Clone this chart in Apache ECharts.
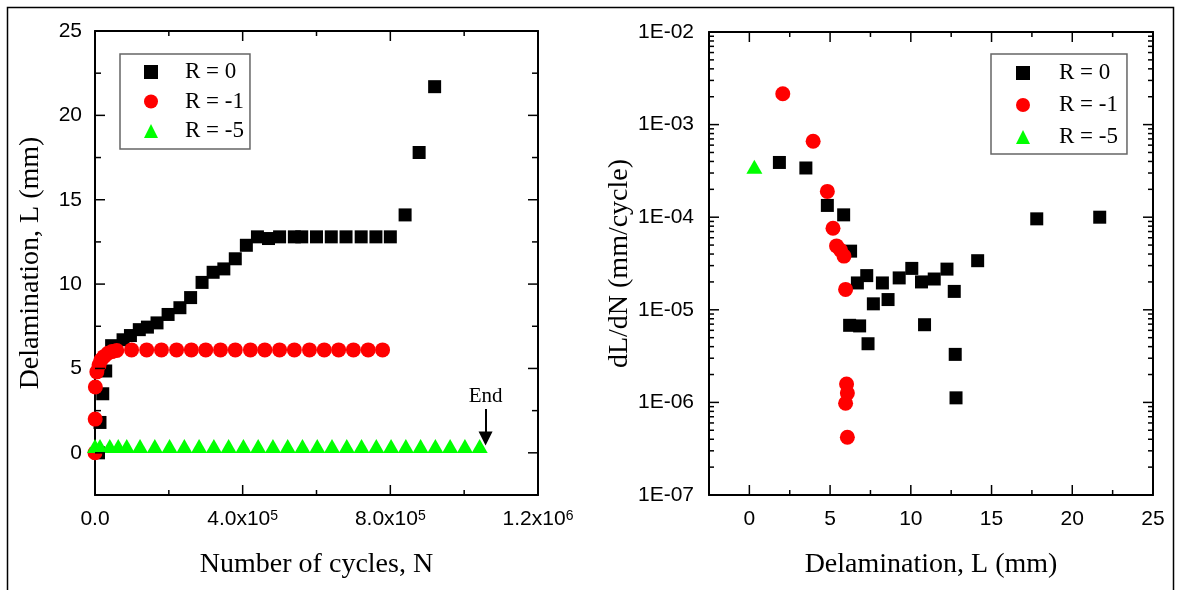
<!DOCTYPE html>
<html><head><meta charset="utf-8">
<script src="https://cdn.jsdelivr.net/npm/echarts@6/dist/echarts.min.js"></script>
<style>html,body{margin:0;padding:0;background:#fff}#c{width:1177px;height:590px}</style>
</head><body><div id="c"></div><script>
// ---------- data ----------
const seriesNames = ['R = 0', 'R = -1', 'R = -5'];
const seriesColors = ['#000000', '#ff0000', '#00ff00'];

// Left panel: number of cycles N vs delamination L (mm)
const r0N = [9500, 13500, 21000, 29000, 45000, 76000, 96000, 120000, 142000, 168000, 198000, 230000, 259000, 290000, 320000, 349000, 380000, 410000, 440000, 470000, 500000, 540000, 560000, 600000, 640000, 680000, 721000, 761000, 800000, 840000, 878000, 920000];
const r0L = [0, 1.8, 3.5, 4.85, 6.35, 6.7, 6.95, 7.3, 7.45, 7.7, 8.2, 8.6, 9.2, 10.1, 10.7, 10.9, 11.5, 12.3, 12.8, 12.7, 12.8, 12.8, 12.8, 12.8, 12.8, 12.8, 12.8, 12.8, 12.8, 14.1, 17.8, 21.7];
const r1N = [0, 500, 1000, 5000, 11000, 16000, 24000, 35000, 46000, 59000, 99000, 140000, 180000, 221000, 261000, 300000, 340000, 380000, 421000, 460000, 500000, 540000, 581000, 621000, 660000, 700000, 740000, 779000];
const r1L = [0, 2.0, 3.9, 4.8, 5.2, 5.5, 5.7, 5.9, 6.0, 6.07, 6.1, 6.1, 6.1, 6.1, 6.1, 6.1, 6.1, 6.1, 6.1, 6.1, 6.1, 6.1, 6.1, 6.1, 6.1, 6.1, 6.1, 6.1];
const r5N = [0, 13500, 40000, 63000, 86000, 122000, 162000, 202000, 242000, 282000, 322000, 362000, 402000, 442000, 482000, 522000, 562000, 602000, 642000, 682000, 722000, 762000, 802000, 842000, 882000, 922000, 962000, 1002000, 1042000];
const r5L = [0.4, 0.4, 0.4, 0.4, 0.4, 0.4, 0.4, 0.4, 0.4, 0.4, 0.4, 0.4, 0.4, 0.4, 0.4, 0.4, 0.4, 0.4, 0.4, 0.4, 0.4, 0.4, 0.4, 0.4, 0.4, 0.4, 0.4, 0.4, 0.4];
const endNote = { text: 'End', N: 1058000, fromL: 2.6, toL: 0.85 };

// Right panel: delamination L (mm) vs dL/dN (mm/cycle)
const r0Lr = [1.86, 3.5, 4.83, 5.84, 6.21, 6.27, 6.69, 6.83, 7.27, 7.35, 7.68, 8.24, 8.59, 9.28, 10.06, 10.66, 10.85, 11.45, 12.24, 12.69, 12.75, 12.8, 14.14, 17.8, 21.7];
const r0Rate = [3.9e-4, 3.4e-4, 1.34e-4, 1.06e-4, 6.8e-6, 4.3e-5, 1.95e-5, 6.7e-6, 2.34e-5, 4.3e-6, 1.16e-5, 1.95e-5, 1.29e-5, 2.21e-5, 2.8e-5, 2.0e-5, 6.9e-6, 2.15e-5, 2.75e-5, 1.58e-5, 3.3e-6, 1.12e-6, 3.39e-5, 9.6e-5, 1.0e-4];
const r1Lr = [2.07, 3.95, 4.83, 5.18, 5.4, 5.65, 5.86, 5.96, 6.02, 6.07, 5.96, 6.07];
const r1Rate = [2.15e-3, 6.6e-4, 1.9e-4, 7.6e-5, 4.9e-5, 4.4e-5, 3.8e-5, 1.66e-5, 1.58e-6, 1.26e-6, 9.8e-7, 4.2e-7];
const r5Lr = [0.31];
const r5Rate = [3.5e-4];

// ---------- ticks ----------
const leftXMajor = [0, 400000, 800000, 1200000];
const leftXMinor = [200000, 600000, 1000000];
const leftXMant = ['0.0', '4.0x10', '8.0x10', '1.2x10'];
const leftXExp = ['', '5', '5', '6'];
const leftYMajor = [0, 5, 10, 15, 20, 25];
const leftYMinor = [2.5, 7.5, 12.5, 17.5, 22.5];
const rightXMajor = [0, 5, 10, 15, 20, 25];
const rightXMinor = [2.5, 7.5, 12.5, 17.5, 22.5];
const rightYMajor = [1e-7, 1e-6, 1e-5, 1e-4, 1e-3, 1e-2];
const rightYLabels = ['1E-07', '1E-06', '1E-05', '1E-04', '1E-03', '1E-02'];
const rightYMinor = [];
for (let e = -7; e < -2; e++) for (let m = 2; m <= 9; m++) rightYMinor.push(+(m + 'e' + e));

const leftRange = { x: [0, 1200000], y: [-2.5, 25] };
const rightRange = { x: [-2.5, 25], y: [1e-7, 1e-2] };

const SERIF = 'Liberation Serif';
const SANS = 'Liberation Sans';

function zip(a, b) { return a.map((v, i) => [v, b[i]]); }

function makeAxis(o) {
  const base = {
    type: o.type || 'value',
    gridIndex: o.grid,
    position: o.position,
    min: o.range[0], max: o.range[1],
    splitLine: { show: false },
    axisLine: { show: true, onZero: false, lineStyle: { color: '#000', width: 2 } },
    axisTick: { show: false },
    axisLabel: { show: false }
  };
  if (o.type === 'log') base.logBase = 10;
  if (o.label) base.axisLabel = o.label;
  if (o.name) {
    base.name = o.name;
    base.nameLocation = 'middle';
    base.nameGap = o.nameGap;
    base.nameTextStyle = { fontFamily: SERIF, fontSize: 28, color: '#000' };
    if (o.rot) base.nameRotate = 90;
  }
  return base;
}

const leftXLabel = {
  show: true, margin: 14, customValues: leftXMajor,
  formatter: function (v) {
    const i = leftXMajor.indexOf(v);
    if (i < 0) return '';
    return leftXExp[i] ? '{b|' + leftXMant[i] + '}{s|' + leftXExp[i] + '}' : '{b|' + leftXMant[i] + '}';
  },
  rich: {
    b: { fontFamily: SANS, fontSize: 21, color: '#000' },
    s: { fontFamily: SANS, fontSize: 14, color: '#000', verticalAlign: 'top' }
  }
};
const leftYLabel = { show: true, margin: 13, customValues: leftYMajor, fontFamily: SANS, fontSize: 21, color: '#000' };
const rightXLabel = { show: true, margin: 14, customValues: rightXMajor, fontFamily: SANS, fontSize: 21, color: '#000' };
const rightYLabel = {
  show: true, margin: 15, customValues: rightYMajor, fontFamily: SANS, fontSize: 21, color: '#000',
  formatter: function (v) {
    const e = Math.round(Math.log10(v));
    const i = rightYMajor.findIndex(t => Math.round(Math.log10(t)) === e);
    return i < 0 ? '' : rightYLabels[i];
  }
};

const xAxes = [
  makeAxis({ grid: 0, position: 'bottom', range: leftRange.x, label: leftXLabel, name: 'Number of cycles, N', nameGap: 56 }),
  makeAxis({ grid: 0, position: 'top', range: leftRange.x }),
  makeAxis({ grid: 1, position: 'bottom', range: rightRange.x, label: rightXLabel, name: 'Delamination, L (mm)', nameGap: 56 }),
  makeAxis({ grid: 1, position: 'top', range: rightRange.x })
];
const yAxes = [
  makeAxis({ grid: 0, position: 'left', range: leftRange.y, label: leftYLabel, name: 'Delamination, L (mm)', nameGap: 50, rot: true }),
  makeAxis({ grid: 0, position: 'right', range: leftRange.y }),
  makeAxis({ grid: 1, type: 'log', position: 'left', range: rightRange.y, label: rightYLabel, name: 'dL/dN (mm/cycle)', nameGap: 46, rot: true }),
  makeAxis({ grid: 1, type: 'log', position: 'right', range: rightRange.y })
];

// tick marks: thin rect symbols sitting on the frame edges, shifted inward, positioned by the axes' scales
function tickMarks(range, xMajor, xMinor, yMajor, yMinor, xLen, yLen) {
  const out = [];
  const w = 1.5;
  const xt = (v, len) => {
    out.push({ value: [v, range.y[0]], symbolSize: [w, len], symbolOffset: [0, -len / 2] });
    out.push({ value: [v, range.y[1]], symbolSize: [w, len], symbolOffset: [0, len / 2] });
  };
  const yt = (v, len) => {
    out.push({ value: [range.x[0], v], symbolSize: [len, w], symbolOffset: [len / 2, 0] });
    out.push({ value: [range.x[1], v], symbolSize: [len, w], symbolOffset: [-len / 2, 0] });
  };
  xMajor.forEach(v => xt(v, xLen[0]));
  xMinor.forEach(v => xt(v, xLen[1]));
  yMajor.forEach(v => yt(v, yLen[0]));
  yMinor.forEach(v => yt(v, yLen[1]));
  return out;
}
function tickSeries(xi, yi, items) {
  return {
    type: 'scatter', xAxisIndex: xi, yAxisIndex: yi, data: items,
    symbol: 'rect', symbolKeepAspect: false, clip: false, silent: true, animation: false, z: 6,
    itemStyle: { color: '#000', opacity: 1 },
    emphasis: { disabled: true }, tooltip: { show: false }
  };
}

const symbols = ['rect', 'circle', 'triangle'];
const sizes = [13, 15, [16, 14]];
function sc(i, xi, yi, data, extra) {
  const s = {
    name: seriesNames[i], type: 'scatter', xAxisIndex: xi, yAxisIndex: yi,
    symbol: symbols[i], symbolSize: sizes[i], data: data,
    itemStyle: { color: seriesColors[i], opacity: 1 },
    animation: false
  };
  return Object.assign(s, extra || {});
}

const allSeries = [
  sc(0, 0, 0, zip(r0N, r0L)),
  sc(1, 0, 0, zip(r1N, r1L)),
  sc(2, 0, 0, zip(r5N, r5L), {
    markLine: {
      silent: true, animation: false,
      symbol: ['none', 'triangle'], symbolSize: 14,
      lineStyle: { color: '#000', width: 2, type: 'solid' },
      itemStyle: { color: '#000' },
      label: { show: true, position: 'start', formatter: endNote.text, fontFamily: SERIF, fontSize: 21, color: '#000', distance: 2 },
      data: [[{ coord: [endNote.N, endNote.fromL] }, { coord: [endNote.N, endNote.toL] }]]
    }
  }),
  sc(0, 2, 2, zip(r0Lr, r0Rate)),
  sc(1, 2, 2, zip(r1Lr, r1Rate)),
  sc(2, 2, 2, zip(r5Lr, r5Rate)),
  tickSeries(0, 0, tickMarks(leftRange, leftXMajor, leftXMinor, leftYMajor, leftYMinor, [10, 5], [10, 6])),
  tickSeries(2, 2, tickMarks(rightRange, rightXMajor, rightXMinor, rightYMajor, rightYMinor, [10, 5], [10, 5]))
];

function makeLegend(left, top, gap, padding, textPad) {
  return {
    orient: 'vertical', left: left, top: top,
    data: seriesNames, itemWidth: 14, itemHeight: 14, itemGap: gap,
    padding: padding, borderColor: '#666', borderWidth: 1.5,
    selectedMode: false,
    textStyle: { fontFamily: SERIF, fontSize: 23, color: '#000', padding: [0, 0, 0, textPad] }
  };
}

const chart = echarts.init(document.getElementById('c'), null, { renderer: 'canvas' });
chart.setOption({
  animation: false,
  grid: [
    { left: 95, top: 31, width: 443, height: 464, outerBoundsMode: 'none' },
    { left: 709, top: 32, width: 444, height: 463, outerBoundsMode: 'none' }
  ],
  xAxis: xAxes,
  yAxis: yAxes,
  legend: [
    makeLegend(120, 54, 6.5, [6.5, 6, 6.5, 24], 22),
    makeLegend(991, 54, 9, [7.5, 9, 5.5, 25], 24)
  ],
  graphic: [{
    type: 'rect', left: 5, top: 5, silent: true,
    shape: { width: 1166, height: 600 },
    style: { fill: 'none', stroke: '#000', lineWidth: 1.5 }
  }],
  series: allSeries
});
</script></body></html>
